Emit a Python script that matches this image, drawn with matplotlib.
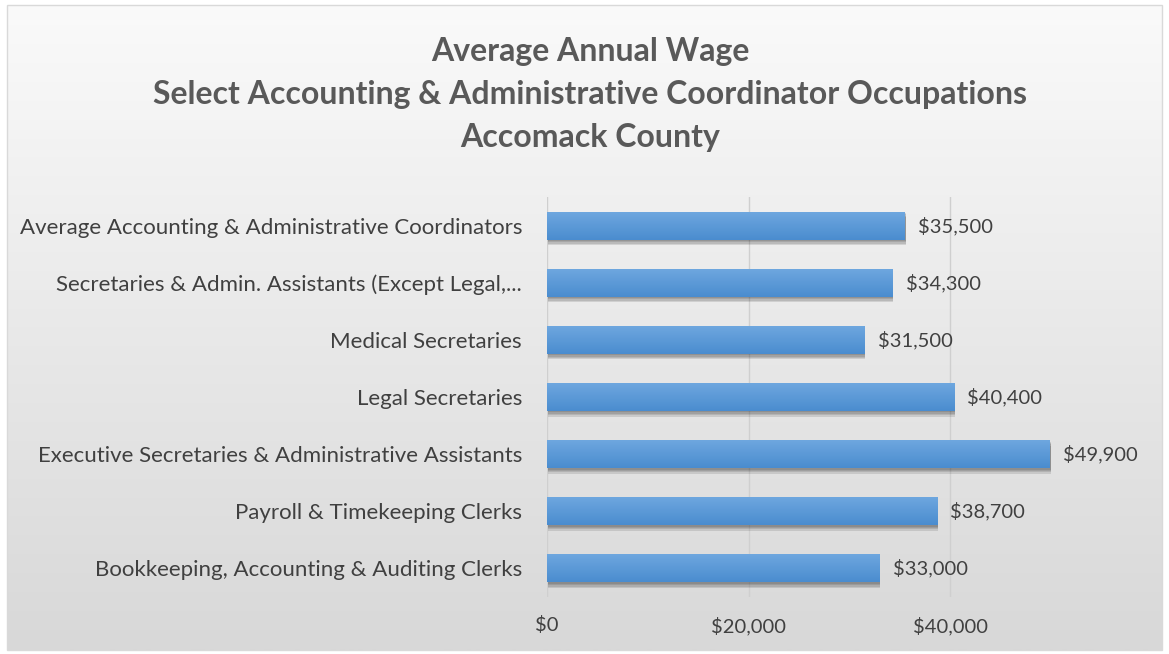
import matplotlib
matplotlib.use("Agg")
import matplotlib.pyplot as plt
import matplotlib.patheffects as pe
import numpy as np
from matplotlib.patches import Rectangle
from matplotlib.colors import LinearSegmentedColormap

categories = [
    "Bookkeeping, Accounting & Auditing Clerks",
    "Payroll & Timekeeping Clerks",
    "Executive Secretaries & Administrative Assistants",
    "Legal Secretaries",
    "Medical Secretaries",
    "Secretaries & Admin. Assistants (Except Legal,...",
    "Average Accounting & Administrative Coordinators",
]
wages = [33000, 38700, 49900, 40400, 31500, 34300, 35500]
x_ticks = [0, 20000, 40000]
title_lines = [
    "Average Annual Wage",
    "Select Accounting & Administrative Coordinator Occupations",
    "Accomack County",
]

plt.rcParams["font.family"] = ["Lato", "DejaVu Sans"]
TEXT = "#595959"

fig = plt.figure(figsize=(11.69, 6.54), dpi=100)

# chart background: light gray vertical gradient inside a thin border
bg = fig.add_axes([0, 0, 1, 1], zorder=-10)
bg.axis("off")
x0, y0, x1, y1 = 7 / 1169, 1 - 650 / 654, 1162 / 1169, 1 - 5 / 654
grad = np.linspace(0, 1, 256).reshape(-1, 1)
bg_cmap = LinearSegmentedColormap.from_list("bg", ["#fafafa", "#d8d8d8"])
bg.imshow(grad, cmap=bg_cmap, extent=[x0, x1, y0, y1], aspect="auto", origin="upper")
bg.add_patch(Rectangle((x0, y0), x1 - x0, y1 - y0, fill=False, edgecolor="#d9d9d9", lw=1))
bg.set_xlim(0, 1)
bg.set_ylim(0, 1)

for i, line in enumerate(title_lines):
    fig.text(0.505, 1 - (52 + 42.5 * i) / 654, line, ha="center", va="center",
             fontsize=23, fontweight="bold", color=TEXT)

ax = fig.add_axes([547 / 1169, 1 - 597 / 654, 504 / 1169, 400 / 654])
ax.patch.set_alpha(0)
y = np.arange(len(categories))

# soft drop shadow: a few stacked offsets fake the blur
shadow = [pe.SimplePatchShadow(offset=(0.5, -k), shadow_rgbFace="#202020", alpha=0.13)
          for k in (1, 2, 3, 4)]
bars = ax.barh(y, wages, height=0.49, color="#5b9bd5", zorder=3,
               path_effects=shadow + [pe.Normal()])

bar_cmap = LinearSegmentedColormap.from_list("bar", ["#6ea7df", "#4a8ccf"])
for b in bars:
    bx, by, bw, bh = b.get_x(), b.get_y(), b.get_width(), b.get_height()
    im = ax.imshow(grad, cmap=bar_cmap, extent=[bx, bx + bw, by, by + bh],
                   aspect="auto", origin="upper", zorder=4)
    im.set_clip_path(b)
    ax.text(bx + bw + 1300, by + bh / 2, f"${bw:,.0f}", va="center", ha="left",
            fontsize=14.5, color="#404040", clip_on=False)

ax.set_xlim(0, 50000)
ax.set_ylim(-0.5, len(categories) - 0.5)
ax.set_xticks(x_ticks)
ax.set_xticklabels([f"${v:,.0f}" for v in x_ticks])
ax.set_yticks(y)
ax.set_yticklabels(categories)
ax.tick_params(axis="both", length=0, labelsize=14.5, labelcolor="#404040")
ax.tick_params(axis="y", pad=18, labelsize=16)
ax.tick_params(axis="x", pad=14)
ax.xaxis.grid(True, color="#cfcfcf", lw=1, zorder=0)
for s in ax.spines.values():
    s.set_visible(False)

fig.savefig("out.png", dpi=100)
